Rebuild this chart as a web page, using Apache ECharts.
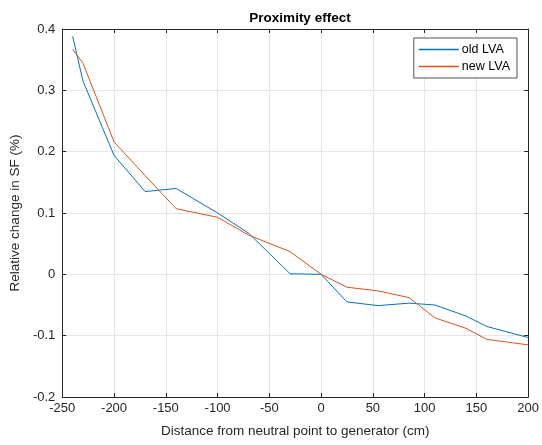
<!DOCTYPE html>
<html>
<head>
<meta charset="utf-8">
<script src="https://cdn.jsdelivr.net/npm/echarts@6/dist/echarts.min.js"></script>
<style>
  html, body { margin: 0; padding: 0; background: #fff; }
  #chart { width: 542px; height: 445px; }
</style>
</head>
<body>
<div id="chart"></div>
<script>
// distance from neutral point (cm)
var distances = [-240, -230, -200, -170, -140, -100, -70, -30, 0, 25, 55, 85, 110, 140, 160, 200];
var oldLVA = [0.388, 0.315, 0.194, 0.135, 0.140, 0.100, 0.067, 0.001, 0, -0.045, -0.051, -0.047, -0.050, -0.068, -0.085, -0.103];
var newLVA = [0.367, 0.344, 0.216, 0.161, 0.107, 0.093, 0.064, 0.037, 0, -0.021, -0.027, -0.038, -0.071, -0.088, -0.106, -0.115];
var seriesNames = ['old LVA', 'new LVA'];

var font = 'Liberation Sans, Arial, sans-serif';

function pairs(xs, ys) {
  return xs.map(function (x, i) { return [x, ys[i]]; });
}

var chart = echarts.init(document.getElementById('chart'));

var boxAxis = {
  axisLine: { show: true, onZero: false, lineStyle: { color: '#262626', width: 1 } },
  axisTick: { show: true, inside: true, length: 4, lineStyle: { color: '#262626' } },
  axisLabel: { show: false },
  splitLine: { show: false }
};

var option = {
  backgroundColor: '#fff',
  animation: false,
  title: {
    text: 'Proximity effect',
    left: 295,
    textAlign: 'center',
    top: 6,
    textStyle: { fontFamily: font, fontSize: 13.5, fontWeight: 'bold', color: '#000' }
  },
  legend: {
    data: seriesNames,
    orient: 'vertical',
    right: 25,
    top: 38,
    backgroundColor: '#fff',
    borderColor: '#262626',
    borderWidth: 0.8,
    borderRadius: 0,
    padding: [5, 7, 5, 5],
    itemGap: 4,
    itemWidth: 40,
    itemHeight: 1.5,
    icon: 'rect',
    textStyle: { fontFamily: font, fontSize: 12.5, color: '#000', padding: [0, 0, 0, -2] }
  },
  grid: {
    left: 61,
    right: 12,
    top: 29,
    bottom: 48,
    containLabel: false
  },
  xAxis: [{
    type: 'value',
    min: -250,
    max: 200,
    interval: 50,
    name: 'Distance from neutral point to generator (cm)',
    nameLocation: 'middle',
    nameGap: 27,
    nameTextStyle: { fontFamily: font, fontSize: 13.5, color: '#262626' },
    axisLine: { show: true, onZero: false, lineStyle: { color: '#262626', width: 1 } },
    axisTick: { show: true, inside: true, length: 4, lineStyle: { color: '#262626' } },
    axisLabel: { fontFamily: font, fontSize: 13, color: '#262626', margin: 5 },
    splitLine: { show: true, lineStyle: { color: '#e6e6e6', width: 1 } }
  }, Object.assign({
    type: 'value', position: 'top', min: -250, max: 200, interval: 50
  }, boxAxis)],
  yAxis: [{
    type: 'value',
    min: -0.2,
    max: 0.4,
    interval: 0.1,
    name: 'Relative change in SF (%)',
    nameLocation: 'middle',
    nameGap: 37,
    nameTextStyle: { fontFamily: font, fontSize: 13.5, color: '#262626' },
    axisLine: { show: true, onZero: false, lineStyle: { color: '#262626', width: 1 } },
    axisTick: { show: true, inside: true, length: 4, lineStyle: { color: '#262626' } },
    axisLabel: {
      fontFamily: font, fontSize: 13, color: '#262626', margin: 7,
      formatter: function (v) { return String(Math.round(v * 10) / 10); }
    },
    splitLine: { show: true, lineStyle: { color: '#e6e6e6', width: 1 } }
  }, Object.assign({
    type: 'value', position: 'right', min: -0.2, max: 0.4, interval: 0.1
  }, boxAxis)],
  series: [{
    name: seriesNames[0],
    type: 'line',
    data: pairs(distances, oldLVA),
    showSymbol: false,
    symbol: 'none',
    color: '#0072BD',
    lineStyle: { width: 1, color: '#0072BD' },
    itemStyle: { color: '#0072BD' }
  }, {
    name: seriesNames[1],
    type: 'line',
    data: pairs(distances, newLVA),
    showSymbol: false,
    symbol: 'none',
    color: '#D95319',
    lineStyle: { width: 1, color: '#D95319' },
    itemStyle: { color: '#D95319' }
  }]
};

chart.setOption(option);
</script>
</body>
</html>
